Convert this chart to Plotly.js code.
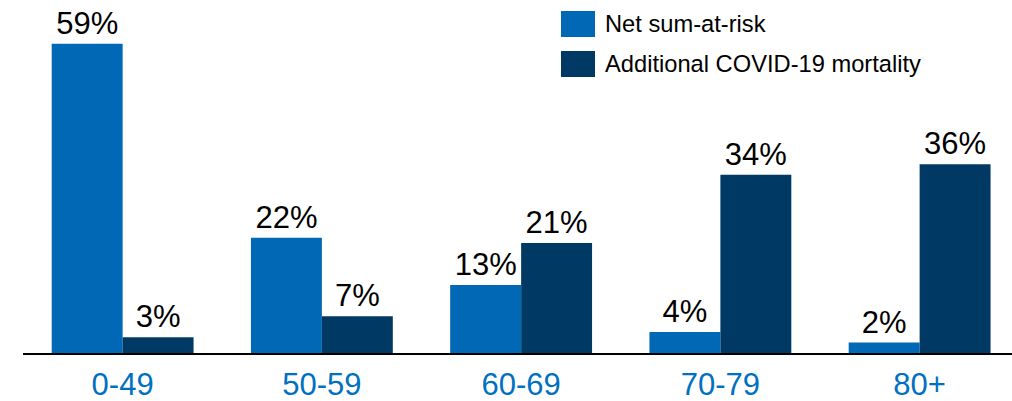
<!DOCTYPE html>
<html>
<head>
<meta charset="utf-8">
<script src="https://cdn.plot.ly/plotly-3.0.1.min.js"></script>
<style>html,body{margin:0;padding:0;background:#fff;overflow:hidden}</style>
</head>
<body>
<div id="chart" style="width:1012px;height:401px"></div>
<script>
const categories = ["0-49", "50-59", "60-69", "70-79", "80+"];
const netSumAtRisk = [59, 22, 13, 4, 2];
const covidMortality = [3, 7, 21, 34, 36];
const seriesNames = ["Net sum-at-risk", "Additional COVID-19 mortality"];
const colors = ["#0068B5", "#003A64"];

const pct = v => v.map(x => x + "%");
const font = "Liberation Sans, Arial, sans-serif";

const traces = [
  {type: "bar", x: categories, y: netSumAtRisk, name: seriesNames[0], marker: {color: colors[0]},
   text: pct(netSumAtRisk), textposition: "outside", constraintext: "none", cliponaxis: false,
   textfont: {size: 31, color: "#000", family: font}, hoverinfo: "none"},
  {type: "bar", x: categories, y: covidMortality, name: seriesNames[1], marker: {color: colors[1]},
   text: pct(covidMortality), textposition: "outside", constraintext: "none", cliponaxis: false,
   textfont: {size: 31, color: "#000", family: font}, hoverinfo: "none"}
];

// plot area: x 23..1012 px, y 0..353 px
const L = 23, W = 989, H = 353;
const px = p => (p - L) / W;
const py = p => (H - p) / H;
const legendY = [[11, 37], [51, 77]];
const shapes = legendY.map((r, i) => ({type: "rect", xref: "paper", yref: "paper",
  x0: px(561), x1: px(595), y0: py(r[1]), y1: py(r[0]), fillcolor: colors[i], line: {width: 0}}));
const annotations = legendY.map((r, i) => ({xref: "paper", yref: "paper", x: px(603), y: py((r[0] + r[1]) / 2),
  xanchor: "left", yanchor: "middle", text: seriesNames[i], showarrow: false,
  font: {size: 23.7, color: "#000", family: font}}));

const layout = {
  width: 1012, height: 401,
  margin: {l: L, r: 0, t: 0, b: 401 - H},
  paper_bgcolor: "#fff", plot_bgcolor: "#fff",
  barmode: "group", bargap: 0.288, bargroupgap: 0,
  showlegend: false,
  xaxis: {type: "category", range: [-0.5, -0.5 + W / 199.25], showline: true, linecolor: "#000", linewidth: 2,
    ticks: "", showgrid: false, zeroline: false, ticklabelstandoff: 3,
    tickfont: {size: 31, color: "#0070C0", family: font}, fixedrange: true},
  yaxis: {range: [0, H / 5.24], visible: false, showgrid: false, zeroline: false, fixedrange: true},
  shapes: shapes, annotations: annotations,
  font: {family: font}
};
Plotly.newPlot("chart", traces, layout, {displayModeBar: false, staticPlot: true});
</script>
</body>
</html>
